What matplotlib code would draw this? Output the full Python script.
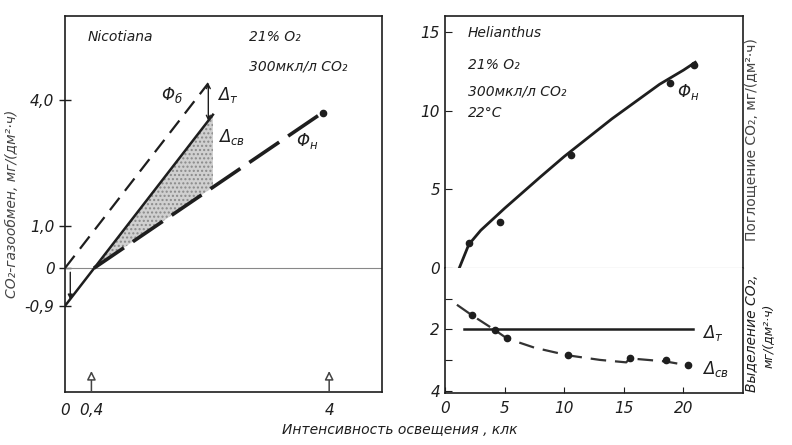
import matplotlib
matplotlib.use("Agg")
import matplotlib.pyplot as plt

plt.rcParams['font.family'] = ['DejaVu Sans']
plt.rcParams['mathtext.fontset'] = 'custom'
plt.rcParams['mathtext.rm'] = 'DejaVu Sans:italic'
plt.rcParams['mathtext.it'] = 'DejaVu Sans:italic'

INK = '#1e1e1e'

# --- Nicotiana: schematic light response near compensation point ---
dark_resp = 0.9                       # dark respiration, mg/(dm2*h)
comp_point = 0.44                     # light compensation point, klx
phi_b_x = [0.0, 2.17]                 # gross photosynthesis
phi_b_y = [0.0, 4.4]
gross_minus_dark_x = [0.0, 2.24]      # gross minus dark respiration
gross_minus_dark_y = [-0.9, 3.65]
phi_n_x = [0.44, 3.9]                 # net photosynthesis
phi_n_y = [0.0, 3.7]
left_yticks = [4.0, 1.0, 0.0, -0.9]
left_yticklabels = ['4,0', '1,0', '0', '-0,9']
left_xticks = [0.0, 0.4, 4.0]
left_xticklabels = ['0', '0,4', '4']

# --- Helianthus: measured net uptake and release ---
uptake_pts_x = [2.0, 4.6, 10.6, 18.9, 20.9]
uptake_pts_y = [1.6, 2.9, 7.2, 11.8, 12.9]
uptake_curve_x = [1.2, 2.0, 3.0, 4.0, 5.0, 6.5, 8.0, 10.0, 12.0, 14.0, 16.0, 18.0, 20.0, 21.0]
uptake_curve_y = [0.0, 1.5, 2.4, 3.1, 3.8, 4.8, 5.8, 7.1, 8.3, 9.5, 10.6, 11.7, 12.6, 13.1]
photoresp_pts_x = [2.25, 4.2, 5.2, 10.3, 15.5, 18.5, 20.4]
photoresp_pts_y = [1.54, 2.03, 2.3, 2.85, 2.95, 3.0, 3.18]
photoresp_curve_x = [1.0, 2.25, 4.2, 5.2, 7.5, 10.3, 13.0, 15.2, 15.5, 18.5, 20.4]
photoresp_curve_y = [1.2, 1.54, 2.03, 2.3, 2.6, 2.85, 3.0, 3.08, 2.95, 3.05, 3.18]
dark_resp_x = [1.6, 20.8]
dark_resp_y = [2.0, 2.0]

fig = plt.figure(figsize=(7.92, 4.45), dpi=100)

# left panel
ax = fig.add_axes([65/792, 1-392/445, 317/792, 376/445])
ax.set_xlim(0, 4.8)
ax.set_ylim(-2.95, 6.0)
ax.axhline(0, color='#888888', lw=0.8)

ax.plot(phi_b_x, phi_b_y, color=INK, lw=1.6, dashes=(7, 4))
ax.plot(gross_minus_dark_x, gross_minus_dark_y, color=INK, lw=1.8)
ax.plot(phi_n_x, phi_n_y, color=INK, lw=2.6, dashes=(10, 3))
ax.plot(phi_n_x[-1], phi_n_y[-1], 'o', color=INK, ms=4.5)

# photorespiration wedge between the two lines
x_r = gross_minus_dark_x[1]
slope_n = (phi_n_y[1] - phi_n_y[0]) / (phi_n_x[1] - phi_n_x[0])
y_r = phi_n_y[0] + slope_n * (x_r - phi_n_x[0])
ax.fill([comp_point, x_r, x_r], [0, gross_minus_dark_y[1], y_r],
        facecolor='#d0d0d0', edgecolor='#8a8a8a', hatch='....', lw=0)

# dark respiration arrows
ax.annotate('', xy=(2.17, gross_minus_dark_y[1] - 2.03*(x_r-2.17)), xytext=(2.17, phi_b_y[1]),
            arrowprops=dict(arrowstyle='<->', color=INK, lw=1, shrinkA=0, shrinkB=0,
                            mutation_scale=7))
ax.annotate('', xy=(0.08, -dark_resp + 0.15), xytext=(0.08, -0.1),
            arrowprops=dict(arrowstyle='-|>', color=INK, lw=1, shrinkA=0, shrinkB=0,
                            mutation_scale=7))

for xv in [0.4, 4.0]:
    ax.annotate('', xy=(xv, -2.45), xytext=(xv, -2.95),
                arrowprops=dict(arrowstyle='-|>', fc='white', ec='#444444', lw=1.1,
                                shrinkA=0, shrinkB=0, mutation_scale=13))

ax.text(0.35, 5.4, 'Nicotiana', style='italic', fontsize=10, color=INK)
ax.text(2.78, 5.4, '21% O₂', style='italic', fontsize=10, color=INK)
ax.text(2.78, 4.7, '300мкл/л CO₂', style='italic', fontsize=10, color=INK)
ax.text(1.45, 4.0, '$Φ_б$', fontsize=12, color=INK)
ax.text(2.3, 4.0, '$Δ_т$', fontsize=12, color=INK)
ax.text(2.32, 3.0, '$Δ_{св}$', fontsize=12, color=INK)
ax.text(3.5, 2.9, '$Φ_н$', fontsize=12, color=INK)

ax.set_yticks(left_yticks)
ax.set_yticklabels(left_yticklabels, style='italic', fontsize=11)
ax.set_xticks(left_xticks)
ax.set_xticklabels(left_xticklabels, style='italic', fontsize=11)
ax.tick_params(axis='y', direction='inout', length=8, width=1, colors=INK)
ax.tick_params(axis='x', length=0, pad=8, colors=INK)
for s in ax.spines.values():
    s.set_linewidth(1.2)
    s.set_color(INK)
ax.set_ylabel('CO₂-газообмен, мг/(дм²·ч)', fontsize=10, style='italic', color='#444444',
              labelpad=4)

# right panel, uptake (top) and release (bottom) share the zero line
axt = fig.add_axes([445/792, 1-268/445, 298/792, 252/445])
axb = fig.add_axes([445/792, 1-393/445, 298/792, 125/445])
for a in (axt, axb):
    a.set_xlim(0, 25)
    for s in a.spines.values():
        s.set_linewidth(1.2)
        s.set_color(INK)
axt.spines['bottom'].set_color('#888888')
axt.spines['bottom'].set_linewidth(0.8)
axb.spines['top'].set_visible(False)

axt.set_ylim(0, 16.05)
axt.plot(uptake_curve_x, uptake_curve_y, color=INK, lw=2.0)
axt.plot(uptake_pts_x, uptake_pts_y, 'o', color=INK, ms=4.5)
axt.text(1.9, 14.7, 'Helianthus', style='italic', fontsize=10, color=INK)
axt.text(1.9, 12.7, '21% O₂', style='italic', fontsize=10, color=INK)
axt.text(1.9, 11.0, '300мкл/л CO₂', style='italic', fontsize=10, color=INK)
axt.text(1.9, 9.6, '22°C', style='italic', fontsize=10, color=INK)
axt.text(19.5, 10.9, '$Φ_н$', fontsize=12, color=INK)
axt.set_yticks([0, 5, 10, 15])
axt.set_yticklabels(['0', '5', '10', '15'], style='italic', fontsize=11)
axt.set_xticks([])
axt.tick_params(axis='y', direction='in', length=5, colors=INK)

axb.set_ylim(4.08, 0)
axb.plot(dark_resp_x, dark_resp_y, color=INK, lw=1.8)
axb.plot(photoresp_curve_x, photoresp_curve_y, color='#333333', lw=1.6, dashes=(7, 4))
axb.plot(photoresp_pts_x, photoresp_pts_y, 'o', color=INK, ms=4.5)
axb.text(21.6, 2.3, '$Δ_т$', fontsize=12, color=INK)
axb.text(21.6, 3.45, '$Δ_{св}$', fontsize=12, color=INK)
axb.set_yticks([1, 2, 3, 4])
axb.set_yticklabels(['', '2', '', '4'], style='italic', fontsize=11)
axb.set_xticks([0, 5, 10, 15, 20])
axb.set_xticklabels(['0', '5', '10', '15', '20'], style='italic', fontsize=11)
axb.tick_params(axis='y', direction='in', length=5, colors=INK)
axb.tick_params(axis='x', direction='in', length=4, pad=6, colors=INK)

fig.text(0.505, 0.018, 'Интенсивность освещения , клк', ha='center', va='bottom',
         style='italic', fontsize=10, color=INK)
fig.text(752/792, 1-140/445, 'Поглощение CO₂, мг/(дм²·ч)', rotation=90,
         ha='center', va='center', fontsize=10, color='#444444')
fig.text(752/792, 1-333/445, 'Выделение CO₂,', rotation=90, style='italic',
         ha='center', va='center', fontsize=10, color=INK)
fig.text(768/792, 1-336/445, 'мг/(дм²·ч)', rotation=90, style='italic',
         ha='center', va='center', fontsize=9, color=INK)

fig.savefig('out.png', dpi=100)
